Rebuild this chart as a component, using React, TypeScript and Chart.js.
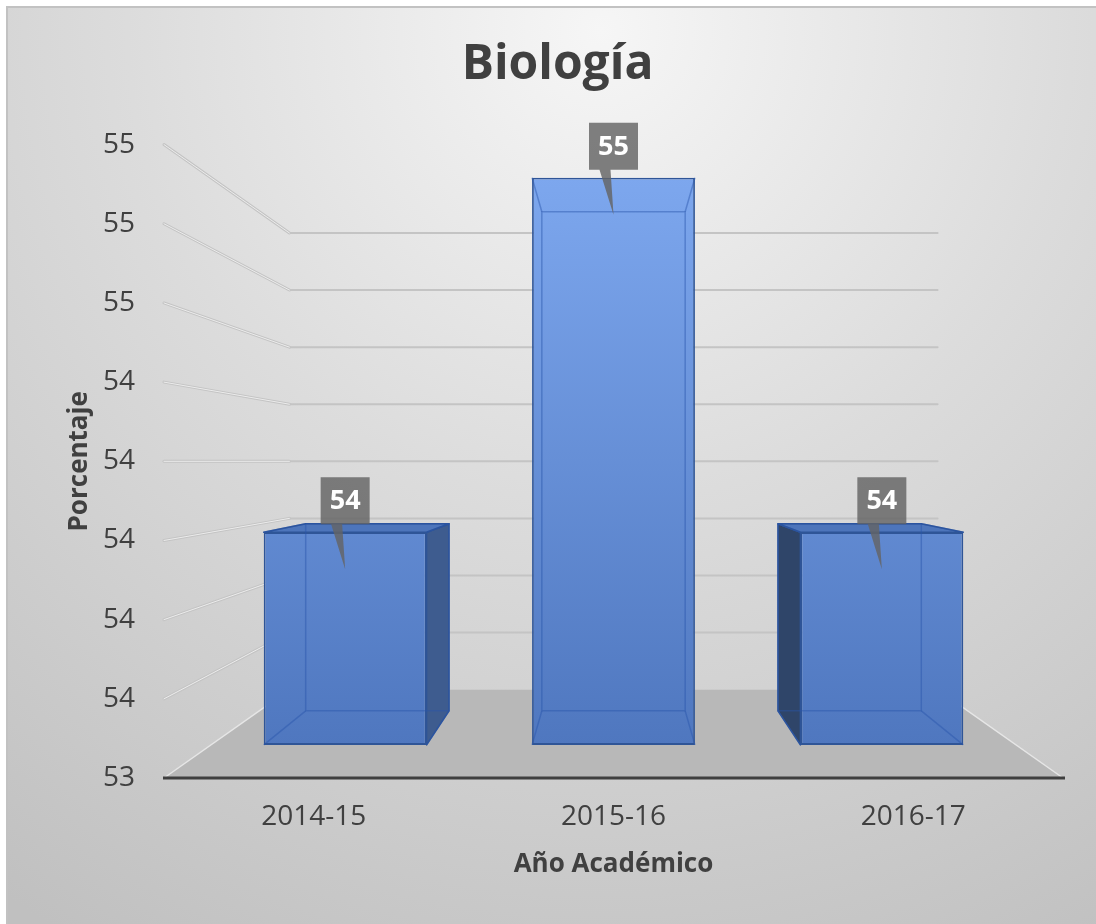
import React, { useEffect, useRef } from "react";
import { Chart, registerables } from "chart.js";

Chart.register(...registerables);

// ---- data ----
const TITLE = "Biología";
const CATEGORIES = ["2014-15", "2015-16", "2016-17"];
const VALUES = [54.0, 55.0, 54.0];
const Y_MIN = 53.4;
const Y_MAX = 55.0;
const Y_STEP = 0.2;
const X_TITLE = "Año Académico";
const Y_TITLE = "Porcentaje";

// ---- layout / style ----
const W = 1096;
const H = 924;
const FONT = "'Open Sans', 'DejaVu Sans', sans-serif";
const TEXT = "#404040";

// perspective depth factors (1 = front plane)
const S_BACK = 0.721;
const S_BAR_FRONT = 0.8955;
const S_BAR_BACK = 0.788;

type Pt = [number, number];

function proj(ca: any, x: number, y: number, s: number): Pt {
  const vx = (ca.left + ca.right) / 2;
  const vy = (ca.top + ca.bottom) / 2;
  return [vx + s * (x - vx), vy + s * (y - vy)];
}

function poly(ctx: CanvasRenderingContext2D, pts: Pt[], fill: string | null, stroke: string | null, lw = 1.5) {
  ctx.beginPath();
  ctx.moveTo(pts[0][0], pts[0][1]);
  for (let i = 1; i < pts.length; i++) ctx.lineTo(pts[i][0], pts[i][1]);
  ctx.closePath();
  if (fill) {
    ctx.fillStyle = fill;
    ctx.fill();
  }
  if (stroke) {
    ctx.strokeStyle = stroke;
    ctx.lineWidth = lw;
    ctx.lineJoin = "round";
    ctx.stroke();
  }
}

function line(ctx: CanvasRenderingContext2D, a: Pt, b: Pt) {
  ctx.beginPath();
  ctx.moveTo(a[0], a[1]);
  ctx.lineTo(b[0], b[1]);
  ctx.stroke();
}

function barGeom(chart: any, el: any) {
  const ca = chart.chartArea;
  const { x, y, base, width } = el.getProps(["x", "y", "base", "width"], true);
  const L = x - width / 2;
  const R = x + width / 2;
  return {
    cx: x,
    fTL: proj(ca, L, y, S_BAR_FRONT),
    fTR: proj(ca, R, y, S_BAR_FRONT),
    fBL: proj(ca, L, base, S_BAR_FRONT),
    fBR: proj(ca, R, base, S_BAR_FRONT),
    bTL: proj(ca, L, y, S_BAR_BACK),
    bTR: proj(ca, R, y, S_BAR_BACK),
    bBL: proj(ca, L, base, S_BAR_BACK),
    bBR: proj(ca, R, base, S_BAR_BACK),
    topF: proj(ca, x, y, S_BAR_FRONT),
  };
}

const threeD = {
  id: "threeD",
  beforeDraw(chart: any) {
    const ctx: CanvasRenderingContext2D = chart.ctx;
    ctx.save();
    ctx.fillStyle = "#ffffff";
    ctx.fillRect(0, 0, W, H);
    const g = ctx.createRadialGradient(600, 30, 0, 600, 30, 1050);
    g.addColorStop(0, "#f6f6f6");
    g.addColorStop(0.45, "#dcdcdc");
    g.addColorStop(1, "#c0c0c0");
    ctx.fillStyle = g;
    ctx.fillRect(7, 7, W - 7, H - 7);
    ctx.strokeStyle = "#c2c2c2";
    ctx.lineWidth = 2;
    ctx.beginPath();
    ctx.moveTo(7, H);
    ctx.lineTo(7, 7);
    ctx.lineTo(W, 7);
    ctx.stroke();
    ctx.restore();
  },
  beforeDatasetsDraw(chart: any) {
    const ctx: CanvasRenderingContext2D = chart.ctx;
    const ca = chart.chartArea;
    const ys = chart.scales.y;
    ctx.save();
    // floor
    const fl: Pt = [ca.left, ca.bottom];
    const fr: Pt = [ca.right, ca.bottom];
    const bl = proj(ca, ca.left, ca.bottom, S_BACK);
    const br = proj(ca, ca.right, ca.bottom, S_BACK);
    poly(ctx, [fl, fr, br, bl], "#b8b8b8", null);
    ctx.strokeStyle = "#e6e6e6";
    ctx.lineWidth = 1.5;
    line(ctx, fl, bl);
    line(ctx, fr, br);

    // wall gridlines
    ys.ticks.forEach((t: any, i: number) => {
      if (i === 0) return;
      const y = ys.getPixelForValue(t.value);
      const a: Pt = [ca.left, y];
      const b = proj(ca, ca.left, y, S_BACK);
      const c = proj(ca, ca.right, y, S_BACK);
      ctx.lineCap = "round";
      ctx.strokeStyle = "#c4c4c4";
      ctx.lineWidth = 3;
      line(ctx, a, b);
      ctx.lineWidth = 2;
      line(ctx, b, c);
      ctx.strokeStyle = "#ececec";
      ctx.lineWidth = 1;
      line(ctx, a, b);
    });

    // front edge of floor
    ctx.strokeStyle = "#3f3f3f";
    ctx.lineWidth = 3;
    ctx.lineCap = "butt";
    line(ctx, [ca.left - 1, ca.bottom], [ca.right + 2, ca.bottom]);

    // exterior side/top faces of the bars
    const meta = chart.getDatasetMeta(0);
    meta.data.forEach((el: any) => {
      const g = barGeom(chart, el);
      if (g.bTR[0] > g.fTR[0]) poly(ctx, [g.fTR, g.bTR, g.bBR, g.fBR], "#3e5c8f", "#2f5597");
      if (g.bTL[0] < g.fTL[0]) poly(ctx, [g.bTL, g.fTL, g.fBL, g.bBL], "#2f4569", "#2f5597");
      if (g.bTL[1] < g.fTL[1]) poly(ctx, [g.bTL, g.bTR, g.fTR, g.fTL], "#4d75bb", "#2f5597");
    });
    ctx.restore();

    // front faces drawn by Chart.js at the bar's depth
    const vx = (ca.left + ca.right) / 2;
    const vy = (ca.top + ca.bottom) / 2;
    ctx.save();
    ctx.translate(vx, vy);
    ctx.scale(S_BAR_FRONT, S_BAR_FRONT);
    ctx.translate(-vx, -vy);
  },
  afterDatasetsDraw(chart: any) {
    const ctx: CanvasRenderingContext2D = chart.ctx;
    ctx.restore();
    const meta = chart.getDatasetMeta(0);
    const data = chart.data.datasets[0].data as number[];
    ctx.save();
    // see-through inner edges
    meta.data.forEach((el: any) => {
      const g = barGeom(chart, el);
      ctx.strokeStyle = "rgba(40, 85, 170, 0.45)";
      ctx.lineWidth = 1.5;
      poly(ctx, [g.bTL, g.bTR, g.bBR, g.bBL], null, "rgba(40, 85, 170, 0.45)");
      line(ctx, g.fTL, g.bTL);
      line(ctx, g.fTR, g.bTR);
      line(ctx, g.fBL, g.bBL);
      line(ctx, g.fBR, g.bBR);
    });
    // data labels (callouts)
    meta.data.forEach((el: any, i: number) => {
      const g = barGeom(chart, el);
      const cx = g.topF[0];
      const ty = g.topF[1];
      const bw = 49;
      const bh = 47;
      const bottom = ty - 8;
      ctx.beginPath();
      ctx.moveTo(cx - bw / 2, bottom - bh);
      ctx.lineTo(cx + bw / 2, bottom - bh);
      ctx.lineTo(cx + bw / 2, bottom);
      ctx.lineTo(cx - 3, bottom);
      ctx.lineTo(cx, ty + 37);
      ctx.lineTo(cx - 14, bottom);
      ctx.lineTo(cx - bw / 2, bottom);
      ctx.closePath();
      ctx.fillStyle = "rgba(100, 100, 100, 0.82)";
      ctx.fill();
      ctx.fillStyle = "#ffffff";
      ctx.font = `bold 27px ${FONT}`;
      ctx.textAlign = "center";
      ctx.textBaseline = "middle";
      ctx.fillText(String(Math.round(data[i])), cx, bottom - bh / 2 + 1);
    });
    ctx.restore();
  },
};

export default function App() {
  const ref = useRef<HTMLCanvasElement>(null);

  useEffect(() => {
    let chart: Chart | null = null;
    let cancelled = false;

    const make = () => {
      if (cancelled || !ref.current) return;
      chart = new Chart(ref.current, {
        type: "bar",
        data: {
          labels: CATEGORIES,
          datasets: [
            {
              data: VALUES,
              base: Y_MIN,
              clip: false as any,
              backgroundColor: (c: any) => {
                const ch = c.chart;
                const ca = ch.chartArea;
                if (!ca) return "#5b84c9";
                const gr = ch.ctx.createLinearGradient(0, ca.top, 0, ca.bottom);
                gr.addColorStop(0, "#7da7ee");
                gr.addColorStop(1, "#4f77bf");
                return gr;
              },
              borderColor: "#2f5597",
              borderWidth: 2,
              borderSkipped: false,
              categoryPercentage: 1,
              barPercentage: 0.607,
            } as any,
          ],
        },
        options: {
          responsive: false,
          animation: false,
          devicePixelRatio: 1,
          events: [],
          layout: { padding: { top: 0, left: 52, right: 33, bottom: 44 } },
          plugins: {
            legend: { display: false },
            tooltip: { enabled: false },
            title: {
              display: true,
              text: TITLE,
              color: TEXT,
              font: { family: FONT, size: 48, weight: "bold", lineHeight: 1.2 },
              padding: { top: 37, bottom: 50 },
            },
          },
          scales: {
            x: {
              grid: { display: false, drawTicks: false },
              border: { display: false },
              ticks: { color: TEXT, font: { family: FONT, size: 28 }, padding: 22 },
              title: {
                display: true,
                text: X_TITLE,
                color: TEXT,
                font: { family: FONT, size: 26, weight: "bold", lineHeight: 1.2 },
                padding: { top: 0, bottom: 0 },
              },
              afterFit: (s: any) => {
                s.height = 102;
              },
            },
            y: {
              min: Y_MIN,
              max: Y_MAX,
              grid: { display: false, drawTicks: false },
              border: { display: false },
              ticks: {
                stepSize: Y_STEP,
                color: TEXT,
                font: { family: FONT, size: 28 },
                padding: 29,
                callback: (v: any) => String(Math.round(Number(v))),
              },
              title: {
                display: true,
                text: Y_TITLE,
                color: TEXT,
                font: { family: FONT, size: 26, weight: "bold", lineHeight: 1.2 },
                padding: { top: 12.4, bottom: 0 },
              },
              afterFit: (s: any) => {
                s.width = 112;
              },
            },
          },
        },
        plugins: [threeD as any],
      });
    };

    const fontsApi = (document as any).fonts;
    if (fontsApi && fontsApi.load) {
      Promise.all([
        fontsApi.load(`28px 'Open Sans'`),
        fontsApi.load(`bold 28px 'Open Sans'`),
      ]).then(make, make);
    } else {
      make();
    }

    return () => {
      cancelled = true;
      if (chart) chart.destroy();
    };
  }, []);

  return (
    <canvas
      ref={ref}
      width={W}
      height={H}
      style={{ position: "absolute", left: 0, top: 0, width: W, height: H, display: "block" }}
    />
  );
}
